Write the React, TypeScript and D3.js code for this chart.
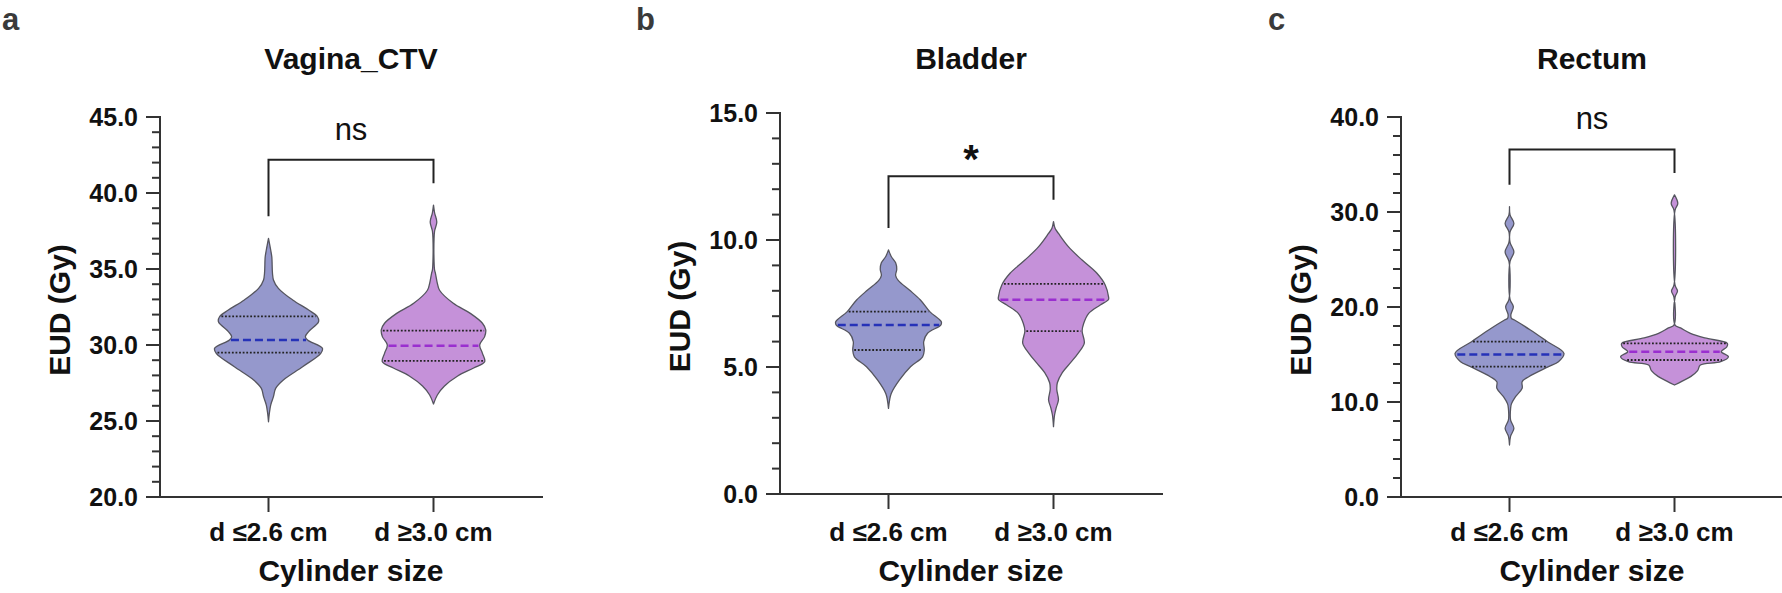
import React, { useEffect, useRef } from 'react'
import * as d3 from 'd3'

// [EUD (Gy), relative density %], top to bottom
type Pt = [number, number]

interface Stats {
  q1: number
  median: number
  q3: number
}

const groups = ['d ≤2.6 cm', 'd ≥3.0 cm']

// Vagina_CTV
const vaginaSmall: Pt[] = [
  [37.02, 0], [36.25, 4], [35.8, 6], [34.28, 9], [33.73, 18], [32.96, 44], [32.3, 73],
  [31.86, 89], [31.53, 91], [30.88, 73], [30.55, 67], [30.33, 71], [29.78, 98], [29.45, 95],
  [28.57, 62], [27.7, 27], [27.15, 13], [26.6, 9], [26.05, 4], [25.5, 1.5], [24.95, 0],
]
const vaginaLarge: Pt[] = [
  [39.2, 0], [38.7, 2], [38.1, 6], [37.5, 2], [37.0, 1], [35.5, 1], [34.93, 2], [34.7, 3.6],
  [34.06, 7], [33.6, 11], [32.74, 36], [32.08, 67], [31.43, 89], [30.99, 95], [30.55, 93],
  [30.0, 84], [29.45, 89], [28.9, 93], [28.49, 73], [27.96, 44], [27.3, 20], [26.71, 7], [26.12, 0],
]
const vaginaStats: Stats[] = [
  { q1: 29.5, median: 30.33, q3: 31.88 },
  { q1: 28.95, median: 29.95, q3: 30.95 },
]
const vaginaTicks = [20, 25, 30, 35, 40, 45]

// Bladder
const bladderSmall: Pt[] = [
  [9.61, 0], [9.35, 5], [9.1, 13], [8.85, 15], [8.6, 13], [8.4, 18], [8.03, 38], [7.64, 58],
  [7.18, 75], [6.78, 96], [6.65, 95], [6.33, 71], [6.0, 64], [5.67, 65], [5.4, 62], [5.01, 40],
  [4.49, 20], [3.96, 5], [3.7, 2], [3.37, 0],
]
const bladderLarge: Pt[] = [
  [10.72, 0], [10.45, 3], [10.26, 9], [9.74, 27], [9.21, 52], [8.69, 79], [8.23, 94], [7.77, 100],
  [7.66, 100], [7.44, 85], [7.11, 64], [6.72, 55], [6.42, 52], [5.94, 56], [5.55, 45], [5.17, 31],
  [4.78, 16], [4.38, 7], [4.11, 6], [3.71, 9], [3.4, 5], [3.12, 2], [2.65, 0],
]
const bladderStats: Stats[] = [
  { q1: 5.67, median: 6.65, q3: 7.18 },
  { q1: 6.41, median: 7.65, q3: 8.27 },
]
const bladderTicks = [0, 5, 10, 15]

// Rectum
const rectumSmall: Pt[] = [
  [30.56, 0], [29.7, 1], [28.8, 8], [27.9, 1], [26.8, 1], [25.8, 8], [24.8, 1], [20.8, 1],
  [20.03, 7], [19.2, 2.5], [18.8, 3.5], [18.63, 9], [17.58, 38], [16.35, 69], [15.12, 99],
  [14.24, 89], [13.72, 71], [12.66, 35], [12.14, 23], [11.44, 23], [10.56, 11], [9.8, 3.5],
  [9.33, 2], [8.1, 2], [7.23, 8], [6.4, 2], [5.47, 0],
]
const rectumLarge: Pt[] = [
  [31.8, 0], [30.9, 6], [30.2, 1], [22.3, 1], [21.68, 5.5], [21.05, 1], [18.1, 1], [17.8, 11],
  [17.23, 29], [16.74, 55], [16.18, 96], [15.79, 95], [15.3, 85], [14.77, 98], [14.24, 84],
  [13.89, 47], [13.3, 42], [12.7, 30], [12.2, 14], [11.79, 0],
]
const rectumStats: Stats[] = [
  { q1: 13.72, median: 15.0, q3: 16.35 },
  { q1: 14.42, median: 15.3, q3: 16.18 },
]
const rectumTicks = [0, 10, 20, 30, 40]

const panels = [
  {
    letter: 'a', title: 'Vagina_CTV', sig: 'ns', profiles: [vaginaSmall, vaginaLarge], stats: vaginaStats,
    ticks: vaginaTicks, minorStep: 1, axisX: 160, top: 117, bottom: 497, letterX: 2,
  },
  {
    letter: 'b', title: 'Bladder', sig: '*', profiles: [bladderSmall, bladderLarge], stats: bladderStats,
    ticks: bladderTicks, minorStep: 1, axisX: 780, top: 113, bottom: 494, letterX: 636,
  },
  {
    letter: 'c', title: 'Rectum', sig: 'ns', profiles: [rectumSmall, rectumLarge], stats: rectumStats,
    ticks: rectumTicks, minorStep: 2, axisX: 1401, top: 117, bottom: 497, letterX: 1268,
  },
]

const fills = ['#9598cc', '#c591d9']
const medianColors = ['#2632b8', '#9a2fcf']
const FONT = '"Liberation Sans", Arial, Helvetica, sans-serif'
const W = 1782
const H = 593

function halfWidthAt(profile: Pt[], v: number) {
  for (let i = 0; i < profile.length - 1; i++) {
    const [a, da] = profile[i]
    const [b, db] = profile[i + 1]
    if (v <= a && v >= b) return da + ((a - v) / (a - b)) * (db - da)
  }
  return 0
}

export default function App() {
  const svgRef = useRef<SVGSVGElement>(null)

  useEffect(() => {
    if (!svgRef.current) return
    document.body.style.margin = '0'
    const svg = d3.select(svgRef.current)
    svg.selectAll('*').remove()

    const widthScale = d3.scaleLinear().domain([0, 100]).range([0, 55])

    panels.forEach((p) => {
      const g = svg.append('g')
      const ticks = p.ticks
      const y = d3.scaleLinear()
        .domain([ticks[0], ticks[ticks.length - 1]])
        .range([p.bottom, p.top])
      const x = d3.scalePoint<string>()
        .domain(groups)
        .range([p.axisX + 108.5, p.axisX + 273.5])
      const axisEnd = Math.min(p.axisX + 383, W)
      const mid = p.axisX + 191

      // panel letter and title
      g.append('text')
        .attr('x', p.letterX).attr('y', 30)
        .attr('font-family', FONT).attr('font-weight', 'bold').attr('font-size', 31)
        .attr('fill', '#3a3a3a')
        .text(p.letter)

      g.append('text')
        .attr('x', mid).attr('y', 69)
        .attr('text-anchor', 'middle')
        .attr('font-family', FONT).attr('font-weight', 'bold').attr('font-size', 30)
        .attr('fill', '#111')
        .text(p.title)

      // violins
      p.profiles.forEach((profile, i) => {
        const cx = x(groups[i]) || 0
        const area = d3.area<Pt>()
          .y(d => y(d[0]))
          .x0(d => cx - widthScale(d[1]))
          .x1(d => cx + widthScale(d[1]))
          .curve(d3.curveCatmullRom.alpha(0.5))

        g.append('path')
          .datum(profile)
          .attr('d', area)
          .attr('fill', fills[i])
          .attr('stroke', '#55555f')
          .attr('stroke-width', 1.3)
          .attr('stroke-linejoin', 'round')

        const s = p.stats[i]
        ;[s.q1, s.q3].forEach(q => {
          const hw = widthScale(halfWidthAt(profile, q)) - 1.5
          g.append('line')
            .attr('x1', cx - hw).attr('x2', cx + hw)
            .attr('y1', y(q)).attr('y2', y(q))
            .attr('stroke', '#222')
            .attr('stroke-width', 1.8)
            .attr('stroke-dasharray', '1.8 1.8')
        })
        const hwm = widthScale(halfWidthAt(profile, s.median)) - 1.5
        g.append('line')
          .attr('x1', cx - hwm).attr('x2', cx + hwm)
          .attr('y1', y(s.median)).attr('y2', y(s.median))
          .attr('stroke', medianColors[i])
          .attr('stroke-width', 2.5)
          .attr('stroke-dasharray', '8 4')
      })

      // significance bracket
      const legEnds = p.profiles.map(pr => y(pr[0][0]) - 22)
      const by = Math.min(...legEnds) - 23.5
      const x0 = x(groups[0]) || 0
      const x1 = x(groups[1]) || 0
      g.append('path')
        .attr('d', `M${x0},${legEnds[0]}V${by}H${x1}V${legEnds[1]}`)
        .attr('fill', 'none')
        .attr('stroke', '#222')
        .attr('stroke-width', 2)

      if (p.sig === '*') {
        g.append('text')
          .attr('x', (x0 + x1) / 2).attr('y', by - 3)
          .attr('text-anchor', 'middle')
          .attr('font-family', FONT).attr('font-weight', 'bold').attr('font-size', 40)
          .attr('fill', '#111')
          .text(p.sig)
      } else {
        g.append('text')
          .attr('x', (x0 + x1) / 2).attr('y', by - 20)
          .attr('text-anchor', 'middle')
          .attr('font-family', FONT).attr('font-size', 31)
          .attr('fill', '#111')
          .text(p.sig)
      }

      // y axis
      const axisColor = '#333'
      g.append('line')
        .attr('x1', p.axisX).attr('x2', p.axisX)
        .attr('y1', p.top - 1).attr('y2', p.bottom)
        .attr('stroke', axisColor).attr('stroke-width', 2)

      const minor = d3.range(ticks[0], ticks[ticks.length - 1] + 1e-9, p.minorStep)
        .filter(v => !ticks.includes(v))
      minor.forEach(v => {
        g.append('line')
          .attr('x1', p.axisX - 8).attr('x2', p.axisX)
          .attr('y1', y(v)).attr('y2', y(v))
          .attr('stroke', axisColor).attr('stroke-width', 2)
      })
      ticks.forEach(v => {
        g.append('line')
          .attr('x1', p.axisX - 14).attr('x2', p.axisX)
          .attr('y1', y(v)).attr('y2', y(v))
          .attr('stroke', axisColor).attr('stroke-width', 2)
        g.append('text')
          .attr('x', p.axisX - 22).attr('y', y(v))
          .attr('dy', '0.36em')
          .attr('text-anchor', 'end')
          .attr('font-family', FONT).attr('font-weight', 'bold').attr('font-size', 25)
          .attr('fill', '#111')
          .text(d3.format('.1f')(v))
      })

      g.append('text')
        .attr('transform', `translate(${p.axisX - 101},${(p.top + p.bottom) / 2 + 3}) rotate(-90)`)
        .attr('text-anchor', 'middle')
        .attr('dy', '0.36em')
        .attr('font-family', FONT).attr('font-weight', 'bold').attr('font-size', 30)
        .attr('fill', '#111')
        .text('EUD (Gy)')

      // x axis
      g.append('line')
        .attr('x1', p.axisX - 14).attr('x2', axisEnd)
        .attr('y1', p.bottom).attr('y2', p.bottom)
        .attr('stroke', axisColor).attr('stroke-width', 2)

      groups.forEach(c => {
        const cx = x(c) || 0
        g.append('line')
          .attr('x1', cx).attr('x2', cx)
          .attr('y1', p.bottom).attr('y2', p.bottom + 15)
          .attr('stroke', axisColor).attr('stroke-width', 2)
        g.append('text')
          .attr('x', cx).attr('y', 541)
          .attr('text-anchor', 'middle')
          .attr('font-family', FONT).attr('font-weight', 'bold').attr('font-size', 26)
          .attr('fill', '#111')
          .text(c)
      })

      g.append('text')
        .attr('x', mid).attr('y', 581)
        .attr('text-anchor', 'middle')
        .attr('font-family', FONT).attr('font-weight', 'bold').attr('font-size', 30)
        .attr('fill', '#111')
        .text('Cylinder size')
    })
  }, [])

  return (
    <svg
      ref={svgRef}
      width={W}
      height={H}
      style={{ position: 'absolute', left: 0, top: 0, background: '#fff' }}
    />
  )
}
